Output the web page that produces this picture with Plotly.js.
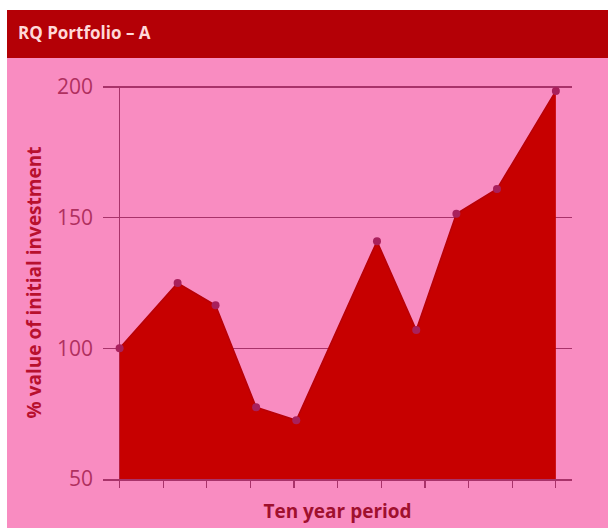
<!DOCTYPE html>
<html>
<head>
<meta charset="utf-8">
<script src="https://cdn.plot.ly/plotly-3.0.1.min.js"></script>
<style>
  html, body { margin: 0; padding: 0; background: #ffffff; width: 608px; height: 528px; overflow: hidden; }
  #chart { position: absolute; left: 7px; top: 10px; width: 601px; height: 518px; }
</style>
</head>
<body>
<div id="chart"></div>
<script>
const chartTitle = "RQ Portfolio – A";
const xTitle = "Ten year period";
const yTitle = "% value of initial investment";
const period = [0, 1.33, 2.2, 3.13, 4.05, 5.9, 6.8, 7.72, 8.65, 10];
const value = [100, 125, 116.5, 77.5, 72.5, 141, 107, 151.5, 161, 198.5];
const xTicks = [0, 1, 2, 3, 4, 5, 6, 7, 8, 9, 10];
const yTicks = [50, 100, 150, 200];

const pink = "#f98cc1";
const mauve = "#a8336a";

const data = [{
  type: "scatter",
  mode: "lines+markers",
  x: period,
  y: value,
  fill: "tozeroy",
  fillcolor: "#c70000",
  line: { color: "#b80008", width: 1.5 },
  marker: { color: "#a8205c", size: 8 },
  hoverinfo: "skip"
}];

const layout = {
  width: 601,
  height: 518,
  paper_bgcolor: pink,
  plot_bgcolor: "rgba(0,0,0,0)",
  margin: { l: 96, r: 36, t: 76, b: 49 },
  showlegend: false,
  title: {
    text: chartTitle,
    x: 11 / 601, xref: "container", xanchor: "left",
    y: 1 - 23 / 518, yref: "container", yanchor: "middle",
    font: { family: "Open Sans, sans-serif", size: 17, color: "#ffd8d8", weight: "bold" }
  },
  xaxis: {
    range: [-0.38, 10.37],
    tickvals: xTicks,
    showticklabels: false,
    ticks: "outside",
    ticklen: 7,
    tickwidth: 1.2,
    tickcolor: mauve,
    showgrid: false,
    zeroline: true,
    zerolinecolor: mauve,
    zerolinewidth: 1.5,
    showline: true,
    linecolor: mauve,
    linewidth: 2,
    title: {
      text: xTitle,
      standoff: 18,
      font: { family: "Open Sans, sans-serif", size: 19, color: "#a0102e", weight: "bold" }
    },
    fixedrange: true
  },
  yaxis: {
    range: [50, 200.4],
    tickvals: yTicks,
    ticks: "",
    ticklabelstandoff: 9,
    showgrid: true,
    gridcolor: mauve,
    gridwidth: 1.5,
    zeroline: false,
    showline: false,
    layer: "above traces",
    tickfont: { family: "Open Sans, sans-serif", size: 21, color: "#b0305f" },
    title: {
      text: yTitle,
      standoff: 10,
      font: { family: "Open Sans, sans-serif", size: 19, color: "#b8102e", weight: "bold" }
    },
    fixedrange: true
  },
  shapes: [{
    type: "rect",
    xref: "paper", yref: "paper",
    x0: -0.3, x1: 1.2,
    y0: 1 + 28 / 393, y1: 1.3,
    fillcolor: "#b40006",
    line: { width: 0 },
    layer: "below"
  }]
};

Plotly.newPlot("chart", data, layout, { displayModeBar: false, staticPlot: true });
</script>
</body>
</html>
